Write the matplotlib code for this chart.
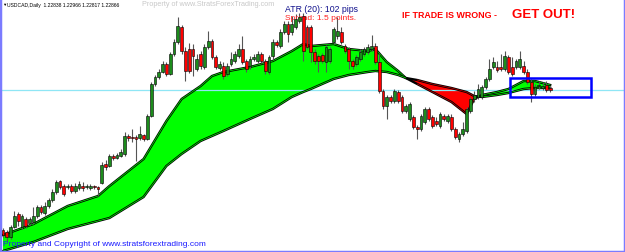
import numpy as np
import matplotlib.pyplot as plt

plt.rcParams['font.family'] = ['Liberation Sans', 'DejaVu Sans']

# USDCAD daily candles, price in chart units (bottom of window = 0)
opens = [22, 20, 15, 25, 38, 25, 33, 29, 30, 36,
         45, 39, 46, 52, 60, 71, 66, 65, 66, 61,
         64, 66, 65, 64, 66, 65, 69, 88, 86, 96,
         94, 96, 98, 116, 115, 115, 114, 117, 113, 136,
         168, 175, 180, 188, 178, 198, 210, 225, 201, 203,
         203, 183, 198, 185, 205, 211, 195, 184, 186, 178,
         188, 191, 196, 203, 191, 186, 193, 191, 198, 191,
         180, 196, 210, 206, 220, 228, 220, 225, 231, 236,
         225, 225, 200, 196, 197, 190, 191, 210, 216, 220,
         206, 203, 191, 188, 193, 198, 200, 203, 206, 190,
         161, 146, 155, 151, 160, 155, 141, 133, 135, 125,
         123, 130, 143, 135, 131, 126, 136, 131, 135, 123,
         113, 118, 121, 141, 153, 155, 155, 165, 173, 185,
         185, 185, 183, 195, 185, 185, 185, 186, 180, 170,
         158, 166, 164, 167, 164]
closes = [17, 15, 25, 36, 31, 36, 26, 33, 36, 45,
          40, 46, 52, 60, 70, 65, 58, 66, 61, 66,
          68, 64, 66, 66, 65, 63, 87, 85, 96, 94,
          97, 100, 116, 114, 114, 113, 118, 113, 136, 168,
          175, 180, 188, 178, 198, 210, 226, 201, 181, 181,
          196, 193, 186, 205, 211, 195, 185, 188, 176, 186,
          193, 198, 203, 190, 183, 193, 195, 198, 191, 181,
          195, 210, 207, 220, 228, 218, 228, 233, 235, 201,
          205, 200, 191, 191, 191, 205, 203, 223, 221, 210,
          201, 191, 186, 195, 200, 203, 205, 206, 190, 161,
          146, 155, 151, 161, 151, 141, 146, 148, 125, 123,
          136, 143, 133, 126, 128, 138, 133, 136, 123, 115,
          118, 123, 143, 153, 157, 163, 165, 173, 183, 190,
          182, 183, 196, 180, 178, 191, 193, 180, 170, 158,
          165, 167, 166, 162, 162]
highs = [24, 22, 27, 41, 40, 38, 35, 35, 45, 47,
         47, 50, 54, 63, 72, 72, 68, 68, 68, 69,
         71, 70, 68, 68, 67, 66, 90, 92, 98, 98,
         99, 103, 120, 118, 123, 117, 126, 118, 138, 170,
         177, 183, 191, 190, 200, 213, 235, 227, 205, 209,
         208, 198, 201, 208, 221, 213, 197, 191, 190, 189,
         200, 201, 208, 216, 193, 196, 198, 201, 200, 193,
         197, 213, 212, 223, 231, 231, 236, 238, 239, 239,
         227, 227, 203, 198, 199, 207, 205, 225, 235, 225,
         208, 205, 193, 197, 203, 205, 208, 217, 209, 198,
         163, 157, 157, 163, 162, 157, 148, 150, 137, 127,
         138, 145, 145, 137, 135, 140, 138, 138, 138, 125,
         120, 130, 145, 155, 161, 168, 167, 175, 193, 195,
         191, 198, 201, 197, 195, 193, 201, 191, 183, 173,
         168, 171, 170, 171, 166]
lows = [15, 11, 13, 24, 26, 23, 24, 27, 28, 34,
        38, 37, 44, 50, 58, 63, 56, 63, 59, 59,
        62, 61, 63, 62, 63, 56, 68, 82, 85, 92,
        93, 95, 96, 111, 110, 91, 112, 111, 112, 135,
        166, 173, 179, 176, 177, 196, 208, 198, 171, 179,
        176, 181, 183, 183, 203, 193, 183, 182, 173, 176,
        186, 189, 194, 188, 180, 183, 191, 189, 189, 178,
        178, 193, 205, 204, 218, 210, 217, 223, 229, 191,
        203, 190, 188, 180, 189, 180, 189, 208, 213, 208,
        199, 183, 183, 186, 191, 196, 198, 201, 188, 159,
        143, 133, 149, 149, 149, 139, 139, 131, 123, 113,
        121, 128, 131, 124, 126, 124, 131, 129, 121, 113,
        110, 116, 119, 139, 150, 153, 153, 163, 171, 183,
        180, 181, 181, 178, 176, 183, 183, 178, 168, 150,
        156, 163, 162, 160, 160]

# moving average ribbon, sampled at bar numbers
ma_bar = [0, 8, 17, 25, 28, 37, 43, 47, 52, 55, 58, 65, 71, 76, 79, 81, 87, 91,
          96, 98, 101, 104, 106, 109, 113, 118, 122, 124, 126, 130, 133, 135,
          137, 140, 144]
ma_fast = [17, 28, 46, 56, 66, 93, 131, 153, 166, 176, 180, 185, 191, 201, 208,
           206, 208, 203, 201, 203, 190, 181, 174, 168, 160, 150, 138, 153, 157,
           160, 163, 167, 171, 171, 167]
ma_slow = [1, 10, 23, 31, 34, 55, 86, 98, 111, 116, 121, 133, 143, 155, 160,
           163, 173, 177, 180, 181, 180, 177, 174, 172, 168, 164, 160, 156, 155,
           157, 159, 161, 163, 164, 164]

# the hand drawn box around the last bars
box_bars = (133.4, 154.7)
box_levels = (155, 174)

o = np.array(opens, float)
c = np.array(closes, float)
h = np.array(highs, float)
l = np.array(lows, float)
x = np.arange(len(o))

fig = plt.figure(figsize=(6.25, 2.53), dpi=100)
ax = fig.add_axes([0, 0, 1, 1])

mb = np.array(ma_bar, float)
fast = np.array(ma_fast, float)
slow = np.array(ma_slow, float)
ax.fill_between(mb, fast, slow, where=fast >= slow, interpolate=True,
                color='#00ff00', lw=0, zorder=1)
ax.fill_between(mb, fast, slow, where=fast < slow, interpolate=True,
                color='#ff0000', lw=0, zorder=1)
up = fast >= slow
for line in (fast, slow):
    ax.plot(mb, line, color='black', lw=1.7, zorder=2, solid_joinstyle='round')
    ax.plot(mb, np.ma.masked_where(~up, line), color='#00ff00', lw=0.5, zorder=2)
    ax.plot(mb, np.ma.masked_where(up, line), color='#cc0000', lw=0.5, zorder=2)

# current price line
ax.axhline(c[-1], color='#8fe6f5', lw=0.9, zorder=1.5)

# candles
bull = c >= o
ax.vlines(x, l, h, color='#555555', lw=0.8, zorder=3)
body_lo = np.minimum(o, c)
body_h = np.maximum(np.abs(c - o), 0.8)
ax.bar(x[bull], body_h[bull], bottom=body_lo[bull], width=0.7,
       color='#1c8c1c', edgecolor='black', lw=0.4, zorder=4)
ax.bar(x[~bull], body_h[~bull], bottom=body_lo[~bull], width=0.7,
       color='#ff0000', edgecolor='black', lw=0.4, zorder=4)

ax.add_patch(plt.Rectangle((box_bars[0], box_levels[0]), box_bars[1] - box_bars[0],
                           box_levels[1] - box_levels[0], fill=False,
                           edgecolor='#0000ff', lw=1.8, zorder=5))

step = 3.8
ax.set_xlim(-3 / step, (625 - 3) / step)
ax.set_ylim(0, 253)
ax.set_xticks([])
ax.set_yticks([])
for side in ('left', 'right', 'bottom'):
    ax.spines[side].set_color('#7b7bff')
    ax.spines[side].set_linewidth(2.5)
ax.spines['top'].set_visible(False)

# texts on the chart
T = ax.transAxes
ax.text(2 / 625, 1 - 5 / 253, '▼', fontsize=3.2, color='black', va='center', transform=T)
ax.text(7 / 625, 1 - 5 / 253, 'USDCAD,Daily  1.22838 1.22966 1.22817 1.22866',
        fontsize=3.6, color='black', va='center', transform=T)
ax.text(142 / 625, 1 - 5 / 253, 'Property of www.StratsForexTrading.com',
        fontsize=5.2, color='#c8c8c8', va='center', transform=T)
ax.text(285 / 625, 1 - 9 / 253, 'ATR (20): 102 pips', fontsize=6.3,
        color='#10108c', va='center', transform=T)
ax.text(285 / 625, 1 - 18 / 253, 'Spread: 1.5 points.', fontsize=6.0,
        color='#ff2020', va='center', transform=T)
ax.text(402 / 625, 1 - 15.5 / 253, 'IF TRADE IS WRONG - ', fontsize=6.4,
        fontweight='bold', color='#ff0000', va='center', transform=T)
ax.text(512 / 625, 1 - 15 / 253, 'GET OUT!', fontsize=9.5,
        fontweight='bold', color='#ff0000', va='center', transform=T)
ax.text(3 / 625, 1 - 245 / 253, 'Property and Copyright of www.stratsforextrading.com',
        fontsize=6.0, color='#1a1aff', va='center', transform=T)

fig.savefig('out.png', dpi=100)
